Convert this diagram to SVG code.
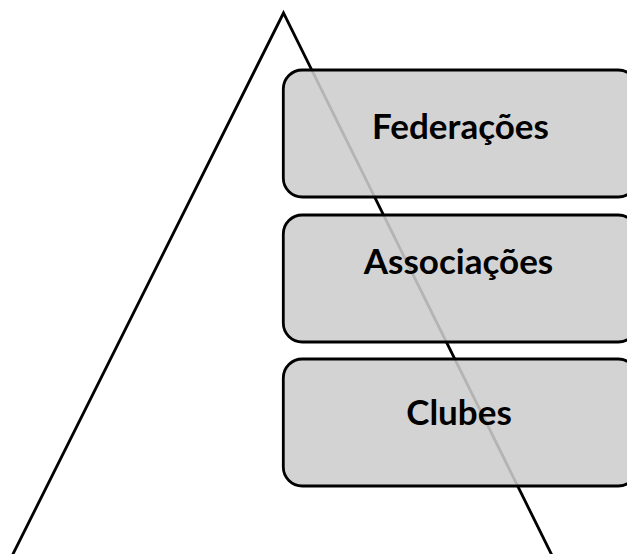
<svg xmlns="http://www.w3.org/2000/svg" width="627" height="554" viewBox="0 0 627 554">
  <style>
    .box { fill: rgb(205,205,205); fill-opacity: 0.88; stroke: #000; stroke-width: 2.8; }
    .lbl { font-family: Lato, "Open Sans", "Liberation Sans", sans-serif; font-weight: bold; font-size: 35px; fill: #000; text-anchor: middle; }
    .tri { fill: none; stroke: #000; stroke-width: 2.8; stroke-linejoin: miter; }
  </style>
  <rect width="627" height="554" fill="#fff"/>
  <g id="connectors">
    <polyline class="tri" points="10,560 283.5,13 554.3,560"/>
  </g>
  <g id="federacoes">
    <rect class="box" x="283.3" y="70" width="354" height="127" rx="19" ry="19"/>
    <text class="lbl" x="460.5" y="138.5">Federações</text>
  </g>
  <g id="associacoes">
    <rect class="box" x="283.3" y="215" width="354" height="127" rx="19" ry="19"/>
    <text class="lbl" x="458.5" y="273.5">Associações</text>
  </g>
  <g id="clubes">
    <rect class="box" x="283.3" y="359" width="354" height="127" rx="19" ry="19"/>
    <text class="lbl" x="459" y="425">Clubes</text>
  </g>
</svg>
